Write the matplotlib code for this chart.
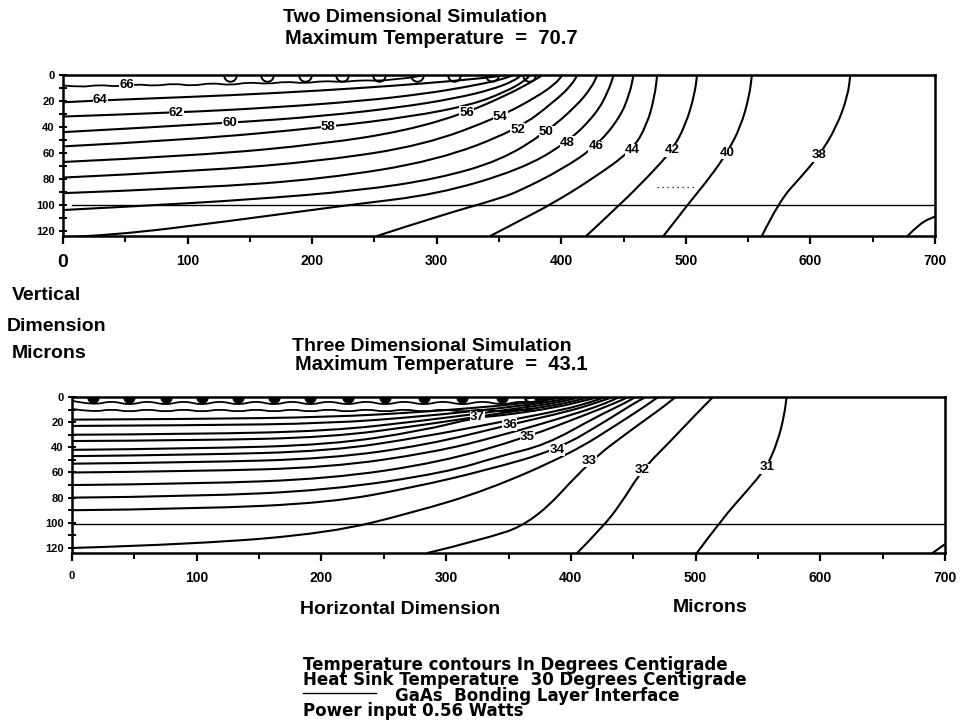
import matplotlib
matplotlib.use("Agg")
import matplotlib.pyplot as plt
from matplotlib.path import Path
from matplotlib.patches import PathPatch

# ---------------- Two dimensional simulation (microns) ----------------
levels_2d = [64, 62, 60, 58, 56, 54, 52, 50, 48, 46, 44, 42, 40, 38, 36]
xs_2d = [
    [0, 30, 100, 170, 240, 290, 325, 345, 355],
    [0, 91, 170, 240, 290, 325, 350, 362],
    [0, 134, 210, 270, 315, 345, 362, 368],
    [0, 100, 213, 280, 328, 355, 370, 375],
    [0, 110, 210, 275, 324, 355, 375, 385],
    [0, 110, 210, 290, 351, 380, 395, 401],
    [0, 110, 210, 300, 365, 395, 408, 413],
    [0, 60, 150, 238, 300, 351, 388, 412, 424, 429],
    [0, 40, 130, 230, 300, 367, 405, 428, 438, 442],
    [252, 300, 351, 367, 400, 428, 447, 455, 458],
    [343, 367, 393, 425, 457, 469, 475, 477],
    [420, 447, 470, 489, 500, 507, 509],
    [482, 503, 520, 533, 544, 551, 553],
    [561, 575, 592, 607, 621, 630, 632],
    [678, 688, 700],
]
ys_2d = [
    [21, 19.5, 17, 14, 10, 6.5, 3.5, 1.5, 0],
    [32, 29, 25, 20, 14.5, 9, 4, 0],
    [44, 37, 31.5, 25, 18, 11, 4.5, 0],
    [55, 50, 40, 32, 23, 13, 5, 0],
    [67, 62, 53, 43, 29, 16, 6, 0],
    [79, 74, 66, 54, 32, 17, 7, 0],
    [91, 87, 80, 66, 42, 20, 8, 0],
    [104, 101, 96, 89, 80, 66, 44, 24, 10, 0],
    [125, 123.5, 113, 100, 92, 73, 52, 30, 12, 0],
    [124, 109, 95, 89, 73, 55, 33, 14, 0],
    [124, 112, 99, 80, 58, 38, 16, 0],
    [124, 100, 78, 58, 38, 15, 0],
    [124, 98, 78, 60, 40, 16, 0],
    [124, 97, 79, 62, 40, 16, 0],
    [124, 114, 109],
]
label_at_2d = [1, 1, 1, 2, 4, 4, 4, 6, 6, 5, 4, 3, 3, 3, None]

# wavy 66 degree contour just under the gates
wavy_2d_x = [0, 14, 29, 44, 59, 74, 89, 104, 119, 134, 149, 164, 179, 194,
             209, 224, 239, 254, 269, 280, 290]
wavy_2d_y = [8, 9.5, 7.5, 9, 7, 8.5, 6.5, 8.5, 6, 8, 5.5, 7, 5, 6.5,
             4.5, 5.5, 4, 4.5, 3, 2, 0]
label_66 = (51, 8)
gates_2d = [134, 164, 194, 224, 254, 284, 314, 344, 374]
scan_dots_x = [477, 509]
scan_dots_y = [86, 86]

# ---------------- Three dimensional simulation (microns) ----------------
levels_3d = ["", "", "", "", "37", "", "36", "", "35", "", "34", "", "33", "32", "31", ""]
xs_3d = [
    [0, 100, 207, 280, 343, 370, 386, 395],
    [0, 100, 207, 280, 343, 375, 393, 402],
    [0, 100, 207, 280, 343, 380, 398, 408],
    [0, 100, 207, 280, 343, 385, 404, 415],
    [0, 100, 207, 280, 325, 343, 390, 410, 423],
    [0, 100, 207, 280, 343, 395, 416, 428],
    [0, 100, 207, 285, 351, 400, 422, 434],
    [0, 100, 207, 290, 343, 405, 428, 439],
    [0, 100, 207, 295, 365, 412, 435, 446],
    [0, 100, 207, 300, 343, 380, 420, 441, 452],
    [0, 100, 207, 273, 333, 389, 430, 449, 460],
    [0, 100, 207, 273, 333, 400, 440, 460, 470],
    [285, 327, 370, 415, 450, 474, 484],
    [405, 425, 440, 457, 480, 500, 514],
    [501, 522, 540, 557, 566, 571, 573],
    [690, 700],
]
ys_3d = [
    [18, 17.5, 16, 12, 7, 4, 1.5, 0],
    [23, 22.5, 21, 15.5, 9, 5, 2, 0],
    [30, 29.5, 27, 19, 11, 6, 2.5, 0],
    [35, 34.5, 32, 22.5, 13, 7, 3, 0],
    [42, 41, 38, 27, 16, 15, 8, 3, 0],
    [47, 46, 43, 32, 20, 10, 4, 0],
    [53, 52, 49, 38, 22, 11, 4, 0],
    [60, 59, 56, 44, 31, 13, 5, 0],
    [70, 69, 65, 52, 32, 14, 5, 0],
    [80, 79, 74, 60, 47, 38, 16, 6, 0],
    [90, 89, 84, 72, 58, 42, 18, 6, 0],
    [120, 117, 108, 92, 74, 45, 20, 7, 0],
    [124, 114, 100, 51, 25, 8, 0],
    [124, 104, 85, 58, 35, 14, 0],
    [124, 96, 76, 56, 35, 15, 0],
    [124, 117],
]
label_at_3d = [None, None, None, None, 4, None, 4, None, 4, None, 5, None, 3, 3, 3, None]

gates_3d = [17, 46, 75, 104, 133, 162, 191, 221, 251, 282, 313, 345, 375]
wave1_depth = (6.5, 3.0)      # under gate, between gates
wave2_depth = (12.0, 9.5)
wave1_tail = ([360, 372], [2, 0])
wave2_tail = ([360, 376, 385], [8, 3.5, 0])

interface_2d = 100
interface_3d = 101

notes = [
    "Temperature contours In Degrees Centigrade",
    "Heat Sink Temperature  30 Degrees Centigrade",
    "                GaAs  Bonding Layer Interface",
    "Power input 0.56 Watts",
]

W, H = 966, 723


def px_box(x0, y0, x1, y1):
    return [x0 / W, 1 - y1 / H, (x1 - x0) / W, (y1 - y0) / H]


def smooth_line(ax, xs, ys, lw=1.5):
    pts = list(zip(xs, ys))
    verts, codes = [pts[0]], [Path.MOVETO]
    for i in range(1, len(pts) - 1):
        nxt = pts[i + 1]
        mid = ((pts[i][0] + nxt[0]) / 2, (pts[i][1] + nxt[1]) / 2)
        verts += [pts[i], mid]
        codes += [Path.CURVE3, Path.CURVE3]
    verts.append(pts[-1])
    codes.append(Path.LINETO)
    ax.add_patch(PathPatch(Path(verts, codes), fill=False, lw=lw,
                           ec="black", capstyle="round", zorder=2))


def setup_axes(ax, big_zero):
    ax.set_xlim(0, 700)
    ax.set_ylim(124, 0)
    ax.set_xticks(range(0, 701, 100))
    ax.set_xticks(range(50, 700, 100), minor=True)
    ax.set_yticks(range(0, 121, 20))
    ax.set_yticks(range(10, 121, 20), minor=True)
    ax.tick_params(axis="x", which="major", direction="out", length=6, width=1.6, pad=7)
    ax.tick_params(axis="x", which="minor", direction="out", length=4, width=1.4)
    ax.tick_params(axis="y", which="both", direction="inout", length=6, width=1.4, pad=3)
    for lab in ax.get_xticklabels():
        lab.set_fontweight("bold")
        lab.set_fontsize(10)
    for lab in ax.get_yticklabels():
        lab.set_fontweight("bold")
        lab.set_fontsize(8)
    zero = ax.get_xticklabels()[0]
    zero.set_fontsize(14 if big_zero else 8)
    for s in ax.spines.values():
        s.set_linewidth(1.8)


def put_label(ax, x, y, txt):
    ax.text(x, y, txt, ha="center", va="center", fontsize=9.5, fontweight="bold",
            bbox=dict(fc="white", ec="none", pad=0.2), zorder=5)


plt.rcParams["font.family"] = ["Liberation Sans", "DejaVu Sans"]
fig = plt.figure(figsize=(W / 100, H / 100), dpi=100)

cup = Path.arc(180, 360)
blob = Path.wedge(180, 360)

# ---- top panel ----
ax1 = fig.add_axes(px_box(63, 75, 935, 236))
setup_axes(ax1, True)
for lvl, xs, ys, li in zip(levels_2d, xs_2d, ys_2d, label_at_2d):
    smooth_line(ax1, xs, ys)
    if li is not None:
        put_label(ax1, xs[li], ys[li], str(lvl))
smooth_line(ax1, wavy_2d_x, wavy_2d_y, lw=1.3)
put_label(ax1, label_66[0], label_66[1], "66")
ax1.plot(gates_2d, [0] * len(gates_2d), ls="none", marker=cup, ms=9,
         mfc="none", mec="black", mew=1.4)
ax1.axhline(interface_2d, xmin=0.01, color="black", lw=1.0)
ax1.plot(scan_dots_x, scan_dots_y, color="black", lw=0.9, ls=(0, (1, 3)))

# ---- bottom panel ----
ax2 = fig.add_axes(px_box(72, 397, 945, 553))
setup_axes(ax2, False)
for lvl, xs, ys, li in zip(levels_3d, xs_3d, ys_3d, label_at_3d):
    smooth_line(ax2, xs, ys)
    if li is not None:
        put_label(ax2, xs[li], ys[li], lvl)

mids = [(a + b) / 2 for a, b in zip(gates_3d[:-1], gates_3d[1:])]
for depth, tail in [(wave1_depth, wave1_tail), (wave2_depth, wave2_tail)]:
    wx, wy = [0], [depth[1]]
    for i, g in enumerate(gates_3d):
        wx.append(g)
        wy.append(depth[0])
        if i < len(mids):
            wx.append(mids[i])
            wy.append(depth[1])
    smooth_line(ax2, wx + tail[0], wy + tail[1], lw=1.3)
ax2.plot(gates_3d, [0] * len(gates_3d), ls="none", marker=blob, ms=8,
         color="black")
ax2.axhline(interface_3d, color="black", lw=1.0)


# ---- titles and notes ----
def ftext(x, y, s, size=14, weight="bold"):
    fig.text(x / W, 1 - y / H, s, fontsize=size, fontweight=weight, ha="left", va="center")


ftext(283, 17, "Two Dimensional Simulation", 14)
ftext(285, 38, "Maximum Temperature  =  70.7", 14.5)
ftext(292, 346, "Three Dimensional Simulation", 14)
ftext(295, 365, "Maximum Temperature  =  43.1", 14.5)
ftext(12, 296, "Vertical", 14)
ftext(7, 327, "Dimension", 14)
ftext(12, 354, "Microns", 14)
ftext(300, 609, "Horizontal Dimension", 14)
ftext(673, 607, "Microns", 14)
fig.text(303 / W, 1 - 656 / H, "\n".join(notes), fontsize=12, fontweight="bold",
         family="DejaVu Sans", ha="left", va="top", linespacing=0.82)
fig.add_artist(plt.Line2D([303 / W, 376 / W], [1 - 693 / H, 1 - 693 / H],
                          color="black", lw=1.0))

fig.savefig("out.png", dpi=100)
